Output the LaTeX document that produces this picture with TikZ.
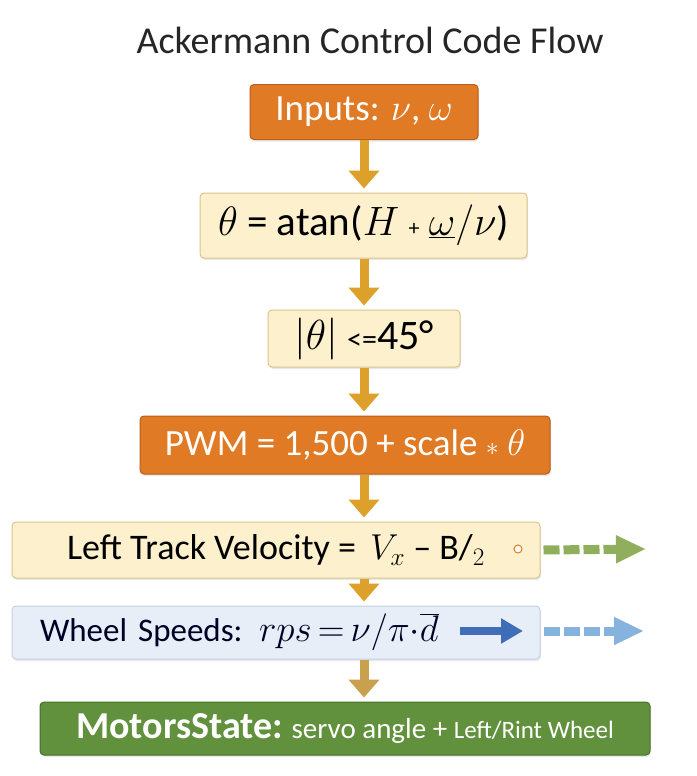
\RequirePackage{fix-cm}
\documentclass[tikz,border=0pt]{standalone}
\usepackage{fontspec}
\setmainfont{Carlito}
\definecolor{ackOrange}{HTML}{E07A25}
\definecolor{ackOrangeDark}{HTML}{B85F18}
\definecolor{ackCream}{HTML}{FCF1CC}
\definecolor{ackCreamDark}{HTML}{D9C48A}
\definecolor{ackBlue}{HTML}{E7EEF8}
\definecolor{ackBlueDark}{HTML}{C3D2E6}
\definecolor{ackGreen}{HTML}{62913D}
\definecolor{ackGreenDark}{HTML}{46702C}
\definecolor{ackGold}{HTML}{DDA02A}
\definecolor{ackTan}{HTML}{C9A04E}
\definecolor{ackLeaf}{HTML}{8FAF5C}
\definecolor{ackSky}{HTML}{86B2DE}
\definecolor{ackNavy}{HTML}{3F6DB8}
\usetikzlibrary{arrows.meta, positioning, shadows}

\begin{document}
\begin{tikzpicture}[x=1pt, y=-1pt,
    box/.style={rounded corners=4pt, line width=1pt, inner sep=0pt,
        drop shadow={opacity=0.18, shadow xshift=1pt, shadow yshift=-2pt}},
    orangebox/.style={box, fill=ackOrange, draw=ackOrangeDark, text=white},
    creambox/.style={box, fill=ackCream, draw=ackCreamDark, text=black},
    bluebox/.style={box, fill=ackBlue, draw=ackBlueDark, text=black!85!blue},
    greenbox/.style={box, fill=ackGreen, draw=ackGreenDark, text=white},
    flow/.style={ackGold, line width=9pt, shorten >=4pt, -{Triangle[width=30pt,length=18pt]}},
    sideflow/.style={line width=9pt, dash pattern=on 16pt off 4pt, -{Triangle[width=26pt,length=30pt]}}]
    \useasboundingbox (0,0) rectangle (696,776);

    % Title
    \node[font=\fontsize{38}{42}\selectfont, text=black!85] (title) at (370,40) {Ackermann Control Code Flow};

    % Flow boxes
    \node[orangebox, minimum width=228pt, minimum height=55pt, font=\fontsize{37}{40}\selectfont]
        (inp) at (364,112) {Inputs: $\nu$, $\omega$};
    \node[creambox, minimum width=327pt, minimum height=65pt, font=\fontsize{41}{44}\selectfont]
        (theta) at (363.5,225.5) {$\theta$ = atan($H$ {\fontsize{22}{24}\selectfont+} $\underline{\omega}/\nu$)};
    \node[creambox, minimum width=192pt, minimum height=57pt, font=\fontsize{42}{46}\selectfont]
        (clamp) at (364,338.5) {$|\theta|$ {\fontsize{30}{32}\selectfont<=}45°};
    \node[orangebox, minimum width=410pt, minimum height=58pt, font=\fontsize{37}{40}\selectfont]
        (pwm) at (345,445) {PWM = 1,500 + scale {\fontsize{26}{28}\selectfont$\ast$} $\theta$};
    \node[creambox, minimum width=528pt, minimum height=56pt, font=\fontsize{36}{40}\selectfont]
        (lt) at (276,550) {Left Track Velocity = \,$V_x$ -- B/$_2$};
    \node[bluebox, minimum width=528pt, minimum height=53pt, text width=472pt, inner xsep=28pt,
        align=left, font=\fontsize{33}{36}\selectfont]
        (ws) at (276,632.5) {Wheel Speeds: {\fontsize{37}{40}\selectfont$rps\,{=}\,\nu/\pi{\cdot}\overline{d}$}};
    \node[greenbox, minimum width=610pt, minimum height=53pt, font=\fontsize{29}{32}\selectfont]
        (ms) at (345,728.5) {{\fontsize{38}{42}\selectfont\bfseries MotorsState:} servo angle + {\fontsize{25}{28}\selectfont Left/Rint Wheel}};

    % Side marks
    \node[circle, draw=ackOrange, fill=white, line width=1pt, inner sep=0pt, minimum size=8pt] (ltdot) at (518,549) {};
    \coordinate (wsa) at (460,631);
    \coordinate (wsb) at (523,631);
    \coordinate (ltout) at (646,549);
    \coordinate (wsout) at (644,631);

    % Connectors
    \draw[flow] (inp.south) -- (theta.north -| inp.south);
    \draw[flow] (theta.south -| inp.south) -- (clamp.north -| inp.south);
    \draw[flow] (clamp.south -| inp.south) -- (pwm.north -| inp.south);
    \draw[flow] (pwm.south -| inp.south) -- (lt.north -| inp.south);
    \draw[flow] (lt.south -| inp.south) -- (ws.north -| inp.south);
    \draw[flow, ackTan] (ws.south -| inp.south) -- (ms.north -| inp.south);
    \draw[ackNavy, line width=8pt, -{Triangle[width=24pt,length=22pt]}] (wsa) -- (wsb);
    \draw[sideflow, ackLeaf] ([xshift=3pt]lt.east) -- (ltout);
    \draw[sideflow, ackSky] ([xshift=3pt]ws.east |- wsout) -- (wsout);
\end{tikzpicture}
\end{document}
